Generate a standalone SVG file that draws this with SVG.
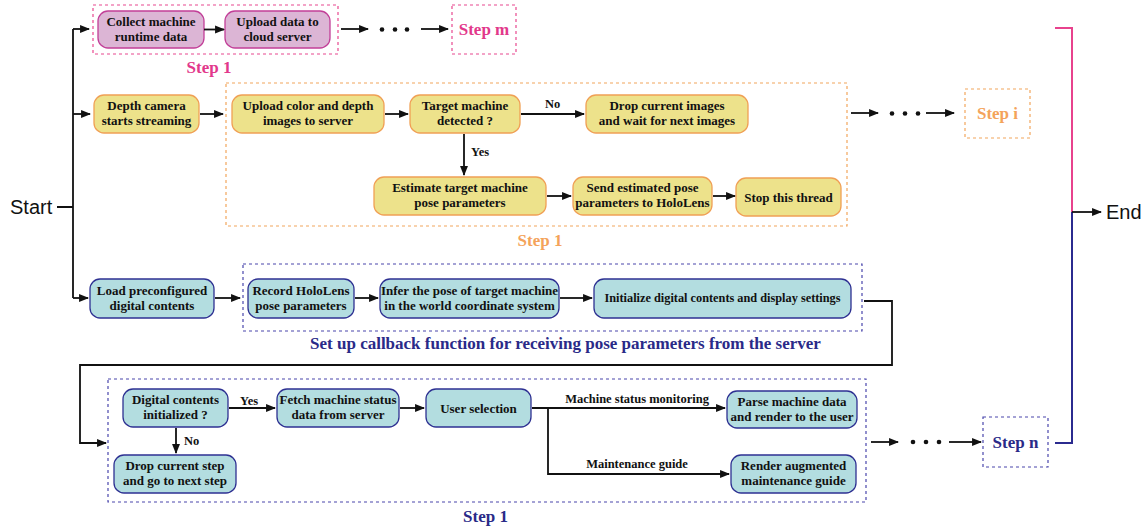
<svg xmlns="http://www.w3.org/2000/svg" width="1146" height="529" viewBox="0 0 1146 529">
  <style>
    .node text { font-family: "Liberation Serif", "Times New Roman", serif; font-weight: bold; font-size: 13px; fill: #111; text-anchor: middle; }
    .pink rect { fill: #dcb5d5; stroke: #c23f98; stroke-width: 1.3; }
    .yellow rect { fill: #ede28b; stroke: #f0a055; stroke-width: 1.3; }
    .blue rect { fill: #b3dde0; stroke: #2e3192; stroke-width: 1.3; }
    .frame { fill: none; stroke-width: 1.2; stroke-dasharray: 3 3; }
    .f-pink { stroke: #e8488f; }
    .f-orange { stroke: #f2a65c; }
    .f-navy { stroke: #4a46ac; }
    .step { font-family: "Liberation Serif", "Times New Roman", serif; font-weight: bold; font-size: 17px; text-anchor: middle; }
    .t-pink { fill: #e2388b; }
    .t-orange { fill: #f4a35a; }
    .t-navy { fill: #2a2a88; }
    .lbl { font-family: "Liberation Serif", "Times New Roman", serif; font-weight: bold; font-size: 12.5px; fill: #111; }
    .term { font-family: "Liberation Sans", Arial, sans-serif; font-size: 20px; fill: #111; }
    .edge { fill: none; stroke: #111; stroke-width: 1.8; }
    .arrow { marker-end: url(#ah); }
    .dot { fill: #111; }
  </style>
  <defs>
    <marker id="ah" viewBox="0 0 10 10" refX="9" refY="5" markerWidth="5.5" markerHeight="5.5" orient="auto" markerUnits="strokeWidth">
      <path d="M0,1 L10,5 L0,9 Z" fill="#111"/>
    </marker>
  </defs>

  <!-- terminals -->
  <text class="term" x="10" y="214">Start</text>
  <text class="term" x="1106" y="219">End</text>

  <!-- step frames -->
  <rect class="frame f-pink" x="93" y="5" width="245" height="49"/>
  <rect class="frame f-pink" x="452" y="5" width="64" height="49"/>
  <rect class="frame f-orange" x="226" y="83" width="621" height="143"/>
  <rect class="frame f-orange" x="965" y="89" width="65" height="49"/>
  <rect class="frame f-navy" x="243" y="264" width="619" height="67"/>
  <rect class="frame f-navy" x="108" y="379" width="758" height="123"/>
  <rect class="frame f-navy" x="983" y="417" width="65" height="50"/>

  <!-- frame captions -->
  <text class="step t-pink" x="484" y="35">Step m</text>
  <text class="step t-pink" x="209" y="73">Step 1</text>
  <text class="step t-orange" x="997.5" y="119">Step i</text>
  <text class="step t-orange" x="540" y="246">Step 1</text>
  <text class="step t-navy" x="1015.5" y="448">Step n</text>
  <text class="step t-navy" x="485.5" y="522">Step 1</text>
  <text class="step t-navy" x="565.5" y="349">Set up callback function for receiving pose parameters from the server</text>

  <!-- nodes: data collection thread -->
  <g id="collect" class="node pink">
    <rect x="98" y="11" width="106" height="37" rx="10"/>
    <text x="151" y="26">Collect machine</text>
    <text x="151" y="41">runtime data</text>
  </g>
  <g id="upload-cloud" class="node pink">
    <rect x="225" y="11" width="105" height="37" rx="10"/>
    <text x="277.5" y="26">Upload data to</text>
    <text x="277.5" y="41">cloud server</text>
  </g>

  <!-- nodes: pose estimation thread -->
  <g id="depth-camera" class="node yellow">
    <rect x="94" y="95" width="105" height="38" rx="10"/>
    <text x="146.5" y="110">Depth camera</text>
    <text x="146.5" y="125">starts streaming</text>
  </g>
  <g id="upload-images" class="node yellow">
    <rect x="232" y="95" width="152" height="38" rx="10"/>
    <text x="308" y="110">Upload color and depth</text>
    <text x="308" y="125">images to server</text>
  </g>
  <g id="target-detected" class="node yellow">
    <rect x="410" y="95" width="110" height="38" rx="10"/>
    <text x="465" y="110">Target machine</text>
    <text x="465" y="125">detected ?</text>
  </g>
  <g id="drop-images" class="node yellow">
    <rect x="586" y="95" width="162" height="38" rx="10"/>
    <text x="667" y="110">Drop current images</text>
    <text x="667" y="125">and wait for next images</text>
  </g>
  <g id="estimate-pose" class="node yellow">
    <rect x="374" y="177" width="172" height="38" rx="10"/>
    <text x="460" y="192">Estimate target machine</text>
    <text x="460" y="207">pose parameters</text>
  </g>
  <g id="send-pose" class="node yellow">
    <rect x="573" y="177" width="139" height="38" rx="10"/>
    <text x="642.5" y="192">Send estimated pose</text>
    <text x="642.5" y="207">parameters to HoloLens</text>
  </g>
  <g id="stop-thread" class="node yellow">
    <rect x="736" y="178" width="105" height="38" rx="10"/>
    <text x="788.5" y="201.5">Stop this thread</text>
  </g>

  <!-- nodes: HoloLens thread -->
  <g id="load-contents" class="node blue">
    <rect x="90" y="279" width="124" height="39" rx="10"/>
    <text x="152" y="295">Load preconfigured</text>
    <text x="152" y="310">digital contents</text>
  </g>
  <g id="record-pose" class="node blue">
    <rect x="248" y="279" width="106" height="39" rx="10"/>
    <text x="301" y="295">Record HoloLens</text>
    <text x="301" y="310">pose parameters</text>
  </g>
  <g id="infer-pose" class="node blue">
    <rect x="380" y="279" width="179" height="39" rx="10"/>
    <text x="469.5" y="295">Infer the pose of target machine</text>
    <text x="469.5" y="310">in the world coordinate system</text>
  </g>
  <g id="init-contents" class="node blue">
    <rect x="594" y="279" width="257" height="39" rx="10"/>
    <text x="722.5" y="302" style="font-size:12.3px">Initialize digital contents and display settings</text>
  </g>
  <g id="contents-initialized" class="node blue">
    <rect x="123" y="389" width="105" height="38" rx="10"/>
    <text x="175.5" y="404">Digital contents</text>
    <text x="175.5" y="419">initialized ?</text>
  </g>
  <g id="fetch-status" class="node blue">
    <rect x="277" y="389" width="122" height="38" rx="10"/>
    <text x="338" y="404">Fetch machine status</text>
    <text x="338" y="419">data from server</text>
  </g>
  <g id="user-selection" class="node blue">
    <rect x="426" y="389" width="105" height="38" rx="10"/>
    <text x="478.5" y="412.5">User selection</text>
  </g>
  <g id="drop-step" class="node blue">
    <rect x="114" y="455" width="122" height="38" rx="10"/>
    <text x="175" y="470">Drop current step</text>
    <text x="175" y="485">and go to next step</text>
  </g>
  <g id="parse-data" class="node blue">
    <rect x="727" y="391" width="130" height="37" rx="10"/>
    <text x="792" y="406">Parse machine data</text>
    <text x="792" y="421">and render to the user</text>
  </g>
  <g id="render-guide" class="node blue">
    <rect x="731" y="455" width="125" height="38" rx="10"/>
    <text x="793.5" y="470">Render augmented</text>
    <text x="793.5" y="485">maintenance guide</text>
  </g>

  <!-- connectors -->
  <g id="connectors">
    <path class="edge" d="M57,207 H73 M73,29 V298"/>
    <path class="edge arrow" d="M73,29 H89"/>
    <path class="edge arrow" d="M73,114 H90"/>
    <path class="edge arrow" d="M73,298 H88"/>

    <path class="edge arrow" d="M204,29.5 H224"/>
    <path class="edge arrow" d="M341,29 H368"/>
    <circle class="dot" cx="382" cy="29.5" r="2.3"/>
    <circle class="dot" cx="395" cy="29.5" r="2.3"/>
    <circle class="dot" cx="407" cy="29.5" r="2.3"/>
    <path class="edge arrow" d="M421,29 H448"/>

    <path class="edge arrow" d="M200,114 H223"/>
    <path class="edge arrow" d="M385,114 H408"/>
    <path class="edge arrow" d="M521,114 H584"/>
    <text class="lbl" x="545" y="108">No</text>
    <path class="edge arrow" d="M464,134 V175"/>
    <text class="lbl" x="471" y="156">Yes</text>
    <path class="edge arrow" d="M547,196 H571"/>
    <path class="edge arrow" d="M713,196 H735"/>
    <path class="edge arrow" d="M851,113 H878"/>
    <circle class="dot" cx="892" cy="113.5" r="2.3"/>
    <circle class="dot" cx="905" cy="113.5" r="2.3"/>
    <circle class="dot" cx="918" cy="113.5" r="2.3"/>
    <path class="edge arrow" d="M926,113 H954"/>

    <path class="edge arrow" d="M215,298 H240"/>
    <path class="edge arrow" d="M355,298 H378"/>
    <path class="edge arrow" d="M560,298 H592"/>
    <path class="edge arrow" d="M864,301 H892 V365 H80 V443 H106"/>

    <path class="edge arrow" d="M229,408 H275"/>
    <text class="lbl" x="240" y="405">Yes</text>
    <path class="edge arrow" d="M400,408 H424"/>
    <path class="edge arrow" d="M532,408 H725"/>
    <text class="lbl" x="637" y="403" text-anchor="middle">Machine status monitoring</text>
    <path class="edge arrow" d="M548,408 V474 H729"/>
    <text class="lbl" x="637" y="468" text-anchor="middle">Maintenance guide</text>
    <path class="edge arrow" d="M176,428 V453"/>
    <text class="lbl" x="184" y="445">No</text>

    <path class="edge arrow" d="M871,442 H898"/>
    <circle class="dot" cx="913" cy="442" r="2.3"/>
    <circle class="dot" cx="926" cy="442" r="2.3"/>
    <circle class="dot" cx="939" cy="442" r="2.3"/>
    <path class="edge arrow" d="M949,442 H981"/>

    <path fill="none" stroke="#e8428d" stroke-width="2" d="M1055,28 H1072 V212"/>
    <path fill="none" stroke="#2b2b8f" stroke-width="2" d="M1055,443 H1072 V212"/>
    <path class="edge arrow" d="M1072,212 H1101"/>
  </g>
</svg>
